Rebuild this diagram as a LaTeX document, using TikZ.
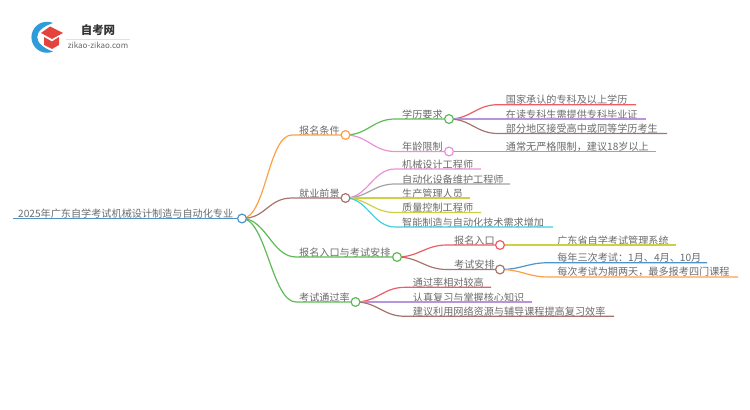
\documentclass[tikz,border=0pt]{standalone}
\usepackage{fontspec}
\setmainfont{Noto Sans CJK SC}
\usepackage{xcolor}
\usetikzlibrary{positioning}
\definecolor{cblue}{HTML}{4F93CB}
\definecolor{corange}{HTML}{FF9F45}
\definecolor{cgreen}{HTML}{5DBB55}
\definecolor{cbrown}{HTML}{A8736C}
\definecolor{cpink}{HTML}{EC8FD8}
\definecolor{cgray}{HTML}{A3A3A3}
\definecolor{colive}{HTML}{CFCF45}
\definecolor{ccyan}{HTML}{3FCFE2}
\definecolor{cred}{HTML}{EE5C66}
\definecolor{cpurple}{HTML}{B795DC}
\definecolor{logoblue}{HTML}{2F9BD8}
\definecolor{logored}{HTML}{E5443E}
\tikzset{
    x=0.75pt, y=-0.75pt,
    font={\fontsize{7.6pt}{9pt}\selectfont},
    branch/.style={draw=#1, line width=0.9pt},
    curve/.style={to path={.. controls +(#1,0) and +(-#1,0) .. (\tikztotarget)}},
    curve/.default=22,
    knob/.style={circle, draw=#1, fill=white, line width=0.9pt, minimum size=6.6pt, inner sep=0pt},
    lbl/.style={text=black!58, inner sep=0pt},
}
\begin{document}
\begin{tikzpicture}
\useasboundingbox (0,0) rectangle (750,410);
% logo
\fill[logoblue] (53,23) arc (-67:-293:15.5) .. controls (32,44) and (32,30) .. (53,23);
\fill[logored] (50,26.5) -- (63,33) -- (52,39) -- (41,33) -- cycle;
\fill[logored] (44,37) -- (52,41.5) -- (59,37) -- (59,45) -- (52,49) -- (44,45) -- cycle;
\node[font={\fontsize{8.6pt}{10pt}\bfseries\selectfont}, text=black!80, inner sep=0pt] (logoname) at (98,30.5) {自考网};
\coordinate (logol) at (66,39);
\coordinate (logor) at (130,39);
\draw[black!12, line width=0.5pt] (logol) -- (logor);
\node[font={\fontsize{6pt}{7pt}\selectfont}, text=black!60, inner sep=0pt] (logourl) at (98,45) {zikao-zikao.com};
% root
\coordinate (roots) at (13,218.5);
\coordinate (roote) at (237,218.5);
\node[lbl, above right=-0.2pt and 3.7pt of roots] (root) {2025年广东自学考试机械设计制造与自动化专业};
% first level
\coordinate (bms) at (292,135);
\coordinate (jys) at (292,198);
\coordinate (rks) at (296,257);
\coordinate (tgs) at (296,302);
\node[lbl, above right=-0.2pt and 5.2pt of bms] (bmt) {报名条件};
\node[lbl, above right=-0.2pt and 5.2pt of jys] (jyt) {就业前景};
\node[lbl, above right=-0.2pt and 2.2pt of rks] (rkt) {报名入口与考试安排};
\node[lbl, above right=-0.2pt and 2.2pt of tgs] (tgt) {考试通过率};
% second level
\coordinate (xls) at (395,119);
\coordinate (nls) at (395,151.5);
\coordinate (jxs) at (395,169);
\coordinate (jxe) at (481,169);
\coordinate (zds) at (395,184);
\coordinate (zde) at (510,184);
\coordinate (scs) at (395,198);
\coordinate (sce) at (470,198);
\coordinate (zls) at (395,212.5);
\coordinate (zle) at (481,212.5);
\coordinate (zns) at (395,227);
\coordinate (zne) at (553,227);
\coordinate (bks) at (447,245);
\coordinate (kps) at (447,269.5);
\coordinate (tls) at (405,287.3);
\coordinate (tle) at (491,287.3);
\coordinate (rzs) at (405,302);
\coordinate (rze) at (532,302);
\coordinate (jis) at (405,316.3);
\coordinate (jie) at (614,316.3);
\node[lbl, above right=-0.2pt and 5.2pt of xls] (xlt) {学历要求};
\node[lbl, above right=-0.2pt and 5.2pt of nls] (nlt) {年龄限制};
\node[lbl, above right=-0.2pt and 5.2pt of jxs] (jxt) {机械设计工程师};
\node[lbl, above right=-0.2pt and 5.2pt of zds] (zdt) {自动化设备维护工程师};
\node[lbl, above right=-0.2pt and 5.2pt of scs] (sct) {生产管理人员};
\node[lbl, above right=-0.2pt and 5.2pt of zls] (zlt) {质量控制工程师};
\node[lbl, above right=-0.2pt and 5.2pt of zns] (znt) {智能制造与自动化技术需求增加};
\node[lbl, above right=-0.2pt and 5.2pt of bks] (bkt) {报名入口};
\node[lbl, above right=-0.2pt and 5.2pt of kps] (kpt) {考试安排};
\node[lbl, above right=-0.2pt and 5.7pt of tls] (tlt) {通过率相对较高};
\node[lbl, above right=-0.2pt and 5.7pt of rzs] (rzt) {认真复习与掌握核心知识};
\node[lbl, above right=-0.2pt and 5.7pt of jis] (jit) {建议利用网络资源与辅导课程提高复习效率};
% third level
\coordinate (gjs) at (498,104.7);
\coordinate (gje) at (636,104.7);
\coordinate (zks) at (498,119);
\coordinate (zke) at (646,119);
\coordinate (bfs) at (498,133.5);
\coordinate (bfe) at (667,133.5);
\coordinate (tcs) at (498,151.5);
\coordinate (tce) at (656,151.5);
\coordinate (gds) at (549,245);
\coordinate (gde) at (676,245);
\coordinate (mns) at (549,262.7);
\coordinate (mne) at (707,262.7);
\coordinate (mcs) at (549,277);
\coordinate (mce) at (738,277);
\node[lbl, above right=-0.2pt and 5.7pt of gjs] (gjt) {国家承认的专科及以上学历};
\node[lbl, above right=-0.2pt and 5.7pt of zks] (zkt) {在读专科生需提供专科毕业证};
\node[lbl, above right=-0.2pt and 5.7pt of bfs] (bft) {部分地区接受高中或同等学历考生};
\node[lbl, above right=-0.2pt and 5.7pt of tcs] (tct) {通常无严格限制，建议18岁以上};
\node[lbl, above right=-0.2pt and 6pt of gds] (gdt) {广东省自学考试管理系统};
\node[lbl, above right=-0.2pt and 6pt of mns] (mnt) {每年三次考试：1月、4月、10月};
\node[lbl, above right=-0.2pt and 6pt of mcs] (mct) {每次考试为期两天，最多报考四门课程};
% knobs
\coordinate (rootk) at (242,218.5);
\coordinate (bmk) at (345.5,135);
\coordinate (jyk) at (345.5,198);
\coordinate (rkk) at (397,257);
\coordinate (tgk) at (355.5,302);
\coordinate (xlk) at (449,119);
\coordinate (nlk) at (449,151.5);
\coordinate (bkk) at (500,245);
\coordinate (kpk) at (500,269.5);
% connectors
\draw[branch=cblue, line width=1.3pt] (roots) -- (rootk);
\draw[branch=corange] (rootk) to[curve=24] (bms) -- (bmk);
\draw[branch=cbrown] (rootk) to[curve=24] (jys) -- (jyk);
\draw[branch=cgreen] (rootk) to[curve=24] (rks) -- (rkk);
\draw[branch=cgreen] (rootk) to[curve=24] (tgs) -- (tgk);
\draw[branch=cgreen] (bmk) to[curve] (xls) -- (xlk);
\draw[branch=cpink] (bmk) to[curve] (nls) -- (nlk);
\draw[branch=cpink] (jyk) to[curve] (jxs) -- (jxe);
\draw[branch=cgray] (jyk) to[curve] (zds) -- (zde);
\draw[branch=colive] (jyk) to[curve] (scs) -- (sce);
\draw[branch=colive] (jyk) to[curve] (zls) -- (zle);
\draw[branch=ccyan] (jyk) to[curve] (zns) -- (zne);
\draw[branch=cred] (rkk) to[curve] (bks) -- (bkk);
\draw[branch=cbrown] (rkk) to[curve] (kps) -- (kpk);
\draw[branch=cred] (tgk) to[curve] (tls) -- (tle);
\draw[branch=cpurple] (tgk) to[curve] (rzs) -- (rze);
\draw[branch=cbrown] (tgk) to[curve] (jis) -- (jie);
\draw[branch=cred] (xlk) to[curve] (gjs) -- (gje);
\draw[branch=cpurple] (xlk) to[curve] (zks) -- (zke);
\draw[branch=cbrown] (xlk) to[curve] (bfs) -- (bfe);
\draw[branch=cgray] (nlk) to[curve] (tcs) -- (tce);
\draw[branch=colive] (bkk) to[curve] (gds) -- (gde);
\draw[branch=cblue] (kpk) to[curve] (mns) -- (mne);
\draw[branch=corange] (kpk) to[curve] (mcs) -- (mce);
\node[knob=cblue] (n0) at (rootk) {};
\node[knob=corange] (n1) at (bmk) {};
\node[knob=cbrown] (n2) at (jyk) {};
\node[knob=cgreen] (n3) at (rkk) {};
\node[knob=cgreen] (n4) at (tgk) {};
\node[knob=cgreen] (n5) at (xlk) {};
\node[knob=cpink] (n6) at (nlk) {};
\node[knob=cred] (n7) at (bkk) {};
\node[knob=cbrown] (n8) at (kpk) {};
\end{tikzpicture}
\end{document}
